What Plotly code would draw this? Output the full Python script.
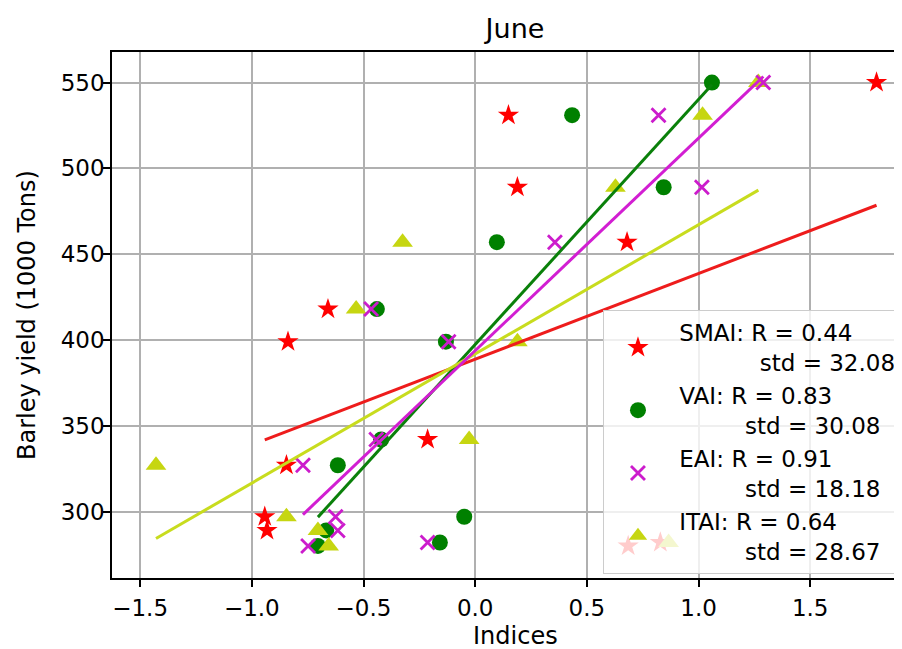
import numpy as np
import plotly.graph_objects as go

# Barley yield (1000 Tons) per year
yields = [550, 531, 489, 457, 418, 399, 342, 327, 297, 289, 282, 280]

# Index values for each year (same order as yields)
smai = [1.797, 0.149, 0.189, 0.680, -0.659, -0.838, -0.213, -0.845, -0.942, -0.932, 0.829, 0.685]
vai = [1.060, 0.434, 0.844, 0.097, -0.440, -0.131, -0.421, -0.615, -0.049, -0.667, -0.158, -0.704]
eai = [1.290, 0.821, 1.015, 0.357, -0.466, -0.119, -0.443, -0.771, -0.625, -0.615, -0.213, -0.748]
itai = [1.268, 1.018, 0.628, -0.325, -0.533, 0.189, -0.027, -1.429, -0.845, -0.704, 0.866, -0.656]

series_names = ["SMAI", "VAI", "EAI", "ITAI"]
r_values = ["0.44", "0.83", "0.91", "0.64"]
std_values = ["32.08", "30.08", "18.18", "28.67"]

x_ticks = [-1.5, -1.0, -0.5, 0.0, 0.5, 1.0, 1.5]
y_ticks = [300, 350, 400, 450, 500, 550]

colors = {"SMAI": "#ff0000", "VAI": "#008000", "EAI": "#cc1ccc", "ITAI": "#c6d611"}
line_colors = {"SMAI": "#ee1c1c", "VAI": "#0a800a", "EAI": "#d21ed2", "ITAI": "#c8dc1e"}
symbols = {"SMAI": "star", "VAI": "circle", "EAI": "x-thin-open", "ITAI": "triangle-up"}
sizes = {"SMAI": 16, "VAI": 16, "EAI": 14, "ITAI": 18}
data = {"SMAI": smai, "VAI": vai, "EAI": eai, "ITAI": itai}

NB = "\u00a0"
lead = 1
pads = {"SMAI": 12, "VAI": 10, "EAI": 10, "ITAI": 10}

# page body has an 8px default margin: compensate so the plot sits where the reference has it
OFF = 8
W, H = 902 - OFF, 649 - OFF
PL, PT, PB = 112 - OFF, 52 - OFF, 649 - 578

fig = go.Figure()

draw_order = ["SMAI", "VAI", "ITAI", "EAI"]
for name in draw_order:
    i = series_names.index(name)
    label = (f"{NB * lead}{name}: R = {r_values[i]}<br>"
             f"{NB * pads[name]}std = {std_values[i]}")
    mk = dict(color=colors[name], size=sizes[name], symbol=symbols[name])
    if name == "EAI":
        mk["line"] = dict(color=colors[name], width=2.8)
    else:
        mk["line"] = dict(width=0)
    fig.add_trace(go.Scatter(
        x=data[name], y=yields, mode="markers", name=label,
        marker=mk, legendrank=i + 1, showlegend=True,
    ))

for name in ["SMAI", "VAI", "ITAI", "EAI"]:
    xs = np.array(data[name])
    ys = np.array(yields, dtype=float)
    k, b = np.polyfit(xs, ys, 1)
    lx = np.array([xs.min(), xs.max()])
    fig.add_trace(go.Scatter(
        x=lx, y=k * lx + b, mode="lines",
        line=dict(color=line_colors[name], width=3),
        showlegend=False, hoverinfo="skip",
    ))

font_family = "DejaVu Sans"
axis_common = dict(
    showgrid=True, gridcolor="#b0b0b0", gridwidth=1.8,
    zeroline=False, showline=True, linecolor="black", linewidth=1.6,
    ticks="outside", ticklen=7, tickwidth=1.6, tickcolor="black",
    tickfont=dict(family=font_family, size=23, color="black"),
)

fig.update_layout(
    width=W, height=H,
    margin=dict(l=PL, r=0, t=PT, b=PB, autoexpand=False),
    paper_bgcolor="white", plot_bgcolor="white",
    font=dict(family=font_family, size=23, color="black"),
    title=dict(text="June", x=(515 - OFF) / W, xref="container", xanchor="center",
               y=1 - (29 - OFF) / H, yanchor="middle",
               font=dict(family=font_family, size=27, color="black")),
    xaxis=dict(range=[-1.626, 1.911], tickvals=x_ticks, tickformat=".1f",
               mirror=True, ticklabelstandoff=2, **axis_common),
    yaxis=dict(range=[261.3, 567.8], tickvals=y_ticks, mirror=False,
               ticklabelstandoff=-6, **axis_common),
    legend=dict(x=0.6215, y=0.5095, xanchor="left", yanchor="top",
                bgcolor="rgba(255,255,255,0.8)", bordercolor="#cccccc",
                borderwidth=1, itemwidth=58, tracegroupgap=0,
                font=dict(family=font_family, size=23, color="black")),
    annotations=[
        dict(text="Indices", xref="paper", yref="paper",
             x=(516 - 112) / 790, y=-(636 - 578) / 526,
             xanchor="center", yanchor="middle", showarrow=False,
             font=dict(family=font_family, size=24, color="black")),
        dict(text="Barley yield (1000 Tons)", xref="paper", yref="paper",
             x=(27 - 112) / 790, y=0.5, textangle=-90,
             xanchor="center", yanchor="middle", showarrow=False,
             font=dict(family=font_family, size=24, color="black")),
    ],
)

fig.write_html("out.html")
